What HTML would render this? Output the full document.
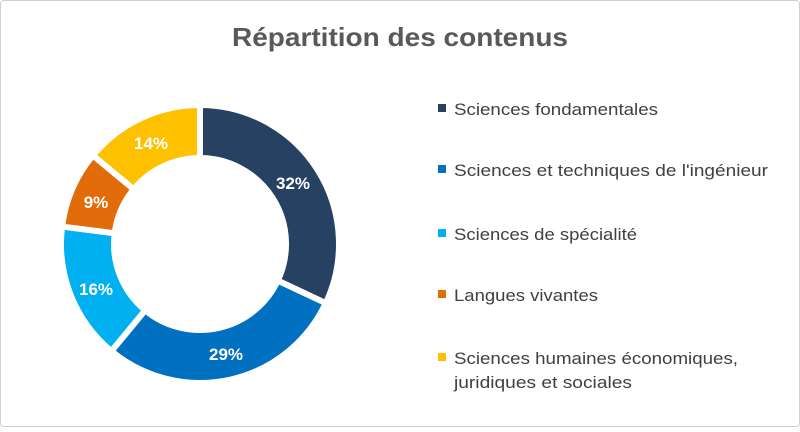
<!DOCTYPE html><html><head><style>body{margin:0;background:#fff}</style></head><body>
<svg width="800" height="427" xmlns="http://www.w3.org/2000/svg" font-family="Liberation Sans, sans-serif">
<rect x="0.5" y="0.5" width="799" height="426" rx="3" fill="#fff" stroke="#d0d0d0"/>
<text x="232" y="46" textLength="336" lengthAdjust="spacingAndGlyphs" font-size="26" font-weight="bold" fill="#595959">Répartition des contenus</text>
<g stroke="#fff" stroke-width="6" id="d"></g>
<g font-size="17" font-weight="bold" fill="#fff" text-anchor="middle">
<text x="293" y="189">32%</text><text x="226" y="360">29%</text><text x="96" y="295">16%</text><text x="96" y="208">9%</text><text x="151" y="149">14%</text></g>
<g font-size="17" fill="#404040">
<rect x="438" y="104" width="8" height="8" fill="#264161"/><text x="454" y="115" textLength="204" lengthAdjust="spacingAndGlyphs">Sciences fondamentales</text>
<rect x="438" y="165" width="8" height="8" fill="#0070c0"/><text x="454" y="176" textLength="314" lengthAdjust="spacingAndGlyphs">Sciences et techniques de l'ingénieur</text>
<rect x="438" y="229" width="8" height="8" fill="#00b0f0"/><text x="454" y="240" textLength="183" lengthAdjust="spacingAndGlyphs">Sciences de spécialité</text>
<rect x="438" y="290" width="8" height="8" fill="#e36c0a"/><text x="454" y="301" textLength="144" lengthAdjust="spacingAndGlyphs">Langues vivantes</text>
<rect x="438" y="353" width="8" height="8" fill="#ffc000"/><text x="454" y="364" textLength="284" lengthAdjust="spacingAndGlyphs">Sciences humaines économiques,</text><text x="454" y="388" textLength="178" lengthAdjust="spacingAndGlyphs">juridiques et sociales</text></g>
<script>
var v=[32,29,16,9,14],c=["#264161","#0070c0","#00b0f0","#e36c0a","#ffc000"],cx=200,cy=244,R=139,r=86,a=0,g=document.getElementById("d");
function p(rad,ang){var t=(ang-90)*Math.PI/180;return (cx+rad*Math.cos(t)).toFixed(2)+","+(cy+rad*Math.sin(t)).toFixed(2);}
v.forEach(function(x,i){var b=a+x*3.6,l=x*3.6>180?1:0;var e=document.createElementNS("http://www.w3.org/2000/svg","path");
e.setAttribute("d","M"+p(R,a)+"A"+R+","+R+" 0 "+l+" 1 "+p(R,b)+"L"+p(r,b)+"A"+r+","+r+" 0 "+l+" 0 "+p(r,a)+"Z");e.setAttribute("fill",c[i]);g.appendChild(e);a=b;});
</script>
</svg></body></html>
